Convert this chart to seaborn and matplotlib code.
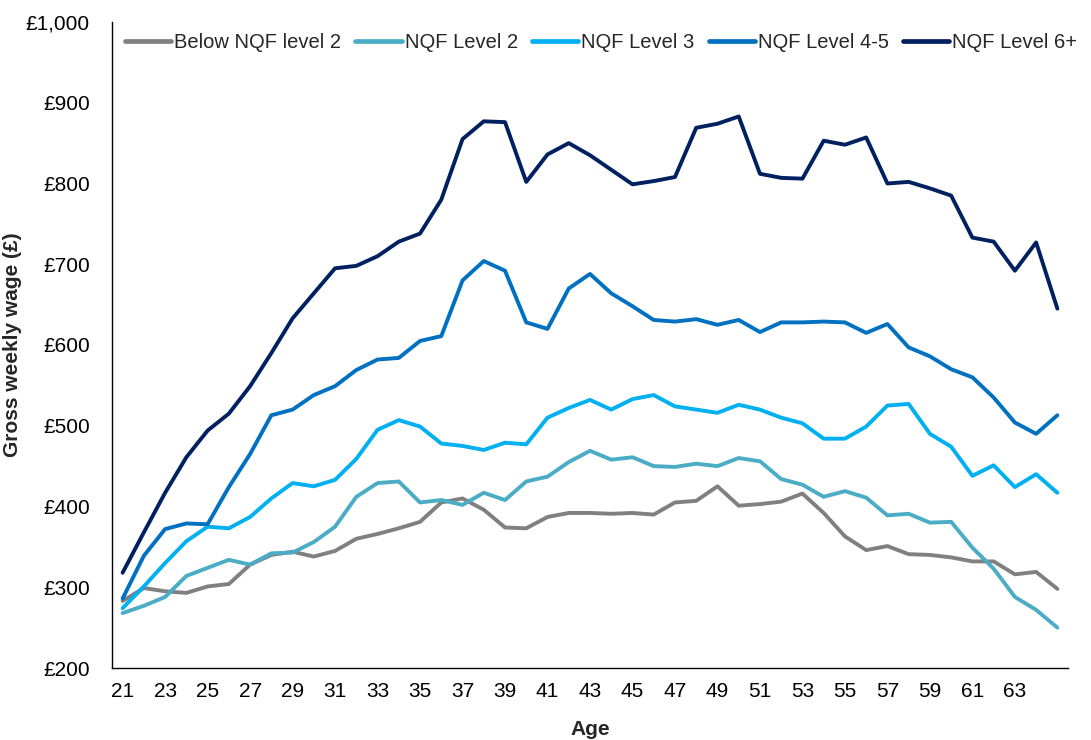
import matplotlib
matplotlib.use("Agg")
import matplotlib.pyplot as plt
import seaborn as sns
import pandas as pd
from matplotlib.ticker import FuncFormatter

ages = list(range(21, 66))
below_l2 = [283, 299, 295, 293, 301, 304, 328, 340, 344, 338, 345, 360, 366, 373, 381,
            405, 410, 396, 374, 373, 387, 392, 392, 391, 392, 390, 405, 407, 425, 401,
            403, 406, 416, 392, 363, 346, 351, 341, 340, 337, 332, 332, 316, 319, 298]
level_2 = [268, 277, 288, 314, 324, 334, 328, 342, 343, 356, 375, 412, 429, 431, 405,
           408, 402, 417, 408, 431, 437, 455, 469, 458, 461, 450, 449, 453, 450, 460,
           456, 434, 427, 412, 419, 411, 389, 391, 380, 381, 349, 323, 288, 272, 250]
level_3 = [274, 301, 330, 357, 375, 373, 387, 410, 429, 425, 433, 459, 495, 507, 499,
           478, 475, 470, 479, 477, 510, 522, 532, 520, 533, 538, 524, 520, 516, 526,
           520, 510, 503, 484, 484, 499, 525, 527, 490, 474, 438, 451, 424, 440, 417]
level_45 = [286, 339, 372, 379, 378, 424, 465, 513, 520, 538, 549, 569, 582, 584, 605,
            611, 680, 704, 692, 628, 620, 670, 688, 664, 648, 631, 629, 632, 625, 631,
            616, 628, 628, 629, 628, 615, 626, 597, 586, 570, 560, 535, 504, 490, 513]
level_6 = [318, 368, 417, 461, 494, 515, 549, 590, 633, 664, 695, 698, 710, 728, 738,
           780, 855, 877, 876, 802, 836, 850, 835, 817, 799, 803, 808, 869, 874, 883,
           812, 807, 806, 853, 848, 857, 800, 802, 794, 785, 733, 728, 692, 727, 645]

series_names = ["Below NQF level 2", "NQF Level 2", "NQF Level 3", "NQF Level 4-5", "NQF Level 6+"]
series_vals = [below_l2, level_2, level_3, level_45, level_6]
colors = ["#808080", "#4BACC6", "#00B0F0", "#0070C0", "#002060"]

df = pd.concat([pd.DataFrame({"Age": ages, "Wage": v, "Level": n})
                for n, v in zip(series_names, series_vals)], ignore_index=True)

sns.set_style("white")
plt.rcParams["font.family"] = ["Liberation Sans", "DejaVu Sans"]

fig = plt.figure(figsize=(10.91, 7.40), dpi=100)
ax = fig.add_axes([112 / 1091, 1 - 668 / 740, (1068 - 112) / 1091, (668 - 22) / 740])

sns.lineplot(data=df, x="Age", y="Wage", hue="Level", hue_order=series_names,
             palette=dict(zip(series_names, colors)), linewidth=2.8, ax=ax)
for ln in ax.lines:
    ln.set_solid_capstyle("round")
    ln.set_solid_joinstyle("round")

ax.set_xlim(20.5, 65.5)
ax.set_ylim(200, 1000)
ax.set_xticks(list(range(21, 64, 2)))
ax.set_yticks(list(range(200, 1001, 100)))
ax.yaxis.set_major_formatter(FuncFormatter(lambda v, p: "£{:,}".format(int(v))))
ax.tick_params(axis="both", length=0, labelsize=15, colors="#000000")
ax.tick_params(axis="y", pad=16)
ax.tick_params(axis="x", pad=10)

for s in ["top", "right"]:
    ax.spines[s].set_visible(False)
for s in ["left", "bottom"]:
    ax.spines[s].set_color("#000000")
    ax.spines[s].set_linewidth(1.0)

ax.set_xlabel("Age", fontsize=15, fontweight="bold", labelpad=14)
ax.set_ylabel("Gross weekly wage (£)", fontsize=15, fontweight="bold")
ax.yaxis.set_label_coords(-0.094, 0.5)

sns.move_legend(ax, "upper left", bbox_to_anchor=(0.0136, 0.983), ncol=5,
                frameon=False, title=None, fontsize=14.5, handlelength=2.3,
                handletextpad=0.15, columnspacing=0.7, borderpad=0, borderaxespad=0)
for h in ax.get_legend().get_lines():
    h.set_linewidth(3.4)

fig.savefig("out.png", dpi=100)
